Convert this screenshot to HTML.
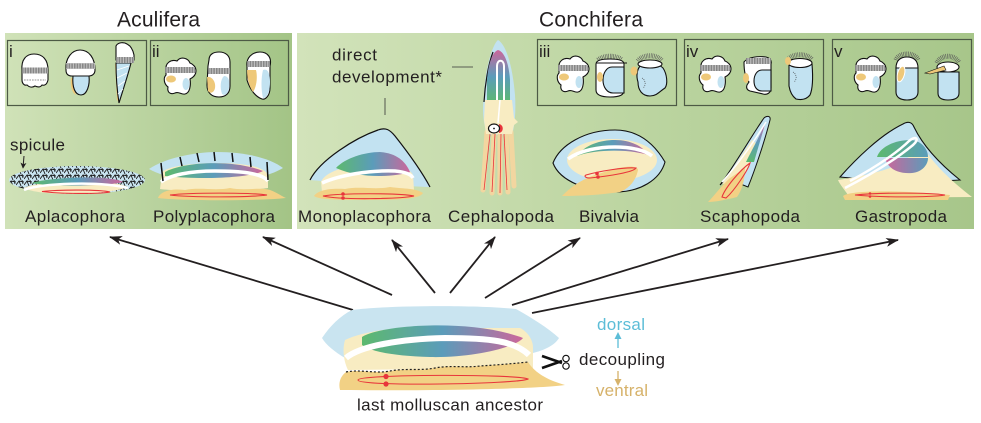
<!DOCTYPE html>
<html><head><meta charset="utf-8"><style>
html,body{margin:0;padding:0;background:#fff;}
svg{display:block;}
text{font-family:"Liberation Sans",Arial,sans-serif;fill:#231f20;}
.lb{font-size:17px;}
.lv{stroke:#111;stroke-width:1.1;}
.bd{stroke:#6a6a6a;stroke-width:6;stroke-dasharray:0.7 0.9;fill:none;}
.bdb{stroke:#c8c8c8;stroke-width:6;fill:none;}
.ci{stroke:#5a5a5a;stroke-width:5;stroke-dasharray:0.6 1;fill:none;}
.wh{fill:#fff;}
.bl{fill:#c2e2f1;}
.tn{fill:#eec879;}
.py{fill:#f8ecc2;}
.ft{fill:#f2d185;}
.rd{stroke:#e8353b;stroke-width:1.1;fill:none;}
.ar{stroke:#231f20;stroke-width:1.8;fill:none;marker-end:url(#ah);}
</style></head><body>
<svg width="981" height="423" viewBox="0 0 981 423" xmlns="http://www.w3.org/2000/svg">
<defs>
<linearGradient id="pa" x1="0" x2="1"><stop offset="0" stop-color="#d0e2b8"/><stop offset="1" stop-color="#a3c486"/></linearGradient>
<linearGradient id="pc" x1="0" x2="1"><stop offset="0" stop-color="#d2e3ba"/><stop offset="0.5" stop-color="#bcd5a1"/><stop offset="1" stop-color="#a7c68a"/></linearGradient>
<linearGradient id="vg" x1="0" x2="1"><stop offset="0" stop-color="#5cb96e"/><stop offset="0.5" stop-color="#5b9cba"/><stop offset="1" stop-color="#cc669b"/></linearGradient>
<linearGradient id="vv" x1="0" y1="1" x2="0" y2="0"><stop offset="0" stop-color="#5cb96e"/><stop offset="0.5" stop-color="#5b9cba"/><stop offset="1" stop-color="#cc669b"/></linearGradient>
<linearGradient id="g1" x1="0" x2="1"><stop offset="0" stop-color="#5cb96e"/><stop offset="1" stop-color="#5b9cba"/></linearGradient>
<linearGradient id="g2" x1="0" x2="1"><stop offset="0" stop-color="#cc669b"/><stop offset="1" stop-color="#5b9cba"/></linearGradient>
<pattern id="sp" width="8" height="6" patternUnits="userSpaceOnUse"><rect width="8" height="6" fill="#c9e4f0"/><path d="M0,5 L3,1 L8,2 M3,1 L5,6 M6,0 L7,4" stroke="#1a1a1a" stroke-width="0.9" fill="none"/></pattern>
<marker id="ah" viewBox="0 0 13 9" refX="12" refY="4.5" markerWidth="13" markerHeight="9" markerUnits="userSpaceOnUse" orient="auto"><path d="M0,0 L13,4.5 L0,9 L3.5,4.5 Z" fill="#231f20"/></marker>
<marker id="sa" viewBox="0 0 8 8" refX="7" refY="4" markerWidth="6" markerHeight="6" markerUnits="userSpaceOnUse" orient="auto"><path d="M0,0 L8,4 L0,8 L2,4 Z" fill="#231f20"/></marker>
<g id="L4">
<path class="lv wh" d="M166,70 C165,63 171,59 177,61 C181,56 188,58 190,63 C193,64 196,67 196,71 C196,76 192,78 190,79 C191,85 190,93 185,94 C181,95 179,91 175,93 C170,95 167,92 168,87 C164,84 163,78 166,75 Z"/>
<line class="bdb" x1="165" y1="70" x2="195" y2="70"/><line class="bd" x1="165" y1="70" x2="195" y2="70"/>
<ellipse class="tn" cx="171" cy="79" rx="5" ry="3.5"/>
<ellipse class="bl" cx="186" cy="84" rx="3.5" ry="6"/>
</g>
</defs>

<!-- panels -->
<rect x="5" y="33" width="287" height="196" fill="url(#pa)"/>
<rect x="297" y="33" width="677" height="196" fill="url(#pc)"/>
<g fill="none" stroke="#4d5a45" stroke-width="1.2">
<rect x="7.5" y="40.5" width="139" height="65"/>
<rect x="150.5" y="40.5" width="138" height="65"/>
<rect x="537.5" y="39.5" width="139" height="66"/>
<rect x="684.5" y="39.5" width="139" height="66"/>
<rect x="832.5" y="39.5" width="139" height="66"/>
</g>

<!-- titles -->
<text x="158.5" y="26.7" font-size="21" text-anchor="middle" textLength="83">Aculifera</text>
<text x="591" y="26.7" font-size="21" text-anchor="middle" textLength="104">Conchifera</text>

<text x="9" y="57" font-size="17">i</text>
<text x="152" y="57" font-size="17">ii</text>
<text x="539" y="57" font-size="17">iii</text>
<text x="686" y="57" font-size="17">iv</text>
<text x="834" y="57" font-size="17">v</text>

<!-- box i larvae -->
<path class="lv wh" d="M22,70 C21,60 26,54 34,54 C43,54 48,60 48,70 L48,80 C47,84 45,86 42,85 C40,88 37,87 35,86 C32,88 29,87 27,85 C24,86 22,83 22,80 Z"/>
<line class="bdb" x1="22" y1="70.5" x2="48" y2="70.5"/><line class="bd" x1="22" y1="70.5" x2="48" y2="70.5"/>
<line x1="24" y1="80" x2="46" y2="80" stroke="#888" stroke-width="1.5" stroke-dasharray="0.6 1"/>

<path class="tn" d="M71,78 C70,86 72,93 76,95 C74,90 74,84 74,78 Z"/>
<path class="lv bl" d="M73,76 L89,76 C90,85 87,95 81,95 C75,95 72,87 73,76 Z"/>
<path class="lv wh" d="M66,70 C65,58 72,50 80,50 C89,50 95,58 95,70 C95,74 92,76 89,76 L72,76 C68,76 66,74 66,70 Z"/>
<line class="bdb" x1="66" y1="66" x2="95" y2="66"/><line class="bd" x1="66" y1="66" x2="95" y2="66" style="stroke-width:5"/>

<path class="tn" d="M115,64 L117,64 L119,102 L117,100 Z"/>
<path class="lv bl" d="M116,63 L131,63 C128,75 123,90 119,103 C117,90 116,75 116,63 Z"/>
<path d="M117,70 L129,66 M117,78 L127,73 M118,86 L125,81 M118,94 L123,89" stroke="#fff" stroke-width="0.8"/>
<path class="lv wh" d="M116,58 L116,46 C118,42 124,42 127,44 C131,46 133,50 134,55 L134,60 L116,60 Z"/>
<line class="bdb" x1="116" y1="60" x2="134" y2="60"/><line class="bd" x1="116" y1="60" x2="134" y2="60"/>

<!-- box ii larvae -->
<use href="#L4"/>
<path class="lv wh" d="M209,60 C209,54 214,52 219,52 C226,52 230,56 230,62 L230,86 C230,93 226,97 219,97 C212,97 207,93 207,85 L208,66 Z"/>
<line class="bdb" x1="208" y1="71" x2="230" y2="71"/><line class="bd" x1="208" y1="71" x2="230" y2="71"/>
<path class="tn" d="M207,77 C212,76 216,82 215,88 C214,93 210,94 208,91 Z"/>
<path class="bl" d="M224,76 C229,76 230,82 229,88 C228,94 225,96 222,94 C220,88 220,80 224,76 Z"/>

<path class="lv wh" d="M247,66 C246,58 252,52 260,52 C268,52 272,58 270,66 L270,88 C270,96 265,100 262,99 C256,97 250,90 247,80 Z"/>
<line class="bdb" x1="247" y1="64" x2="270" y2="64"/><line class="bd" x1="247" y1="64" x2="270" y2="64"/>
<path class="tn" d="M247,70 L256,70 C258,78 256,88 253,92 C250,88 247,80 247,70 Z"/>
<path class="bl" d="M263,70 C268,68 270,74 270,82 C270,92 267,98 263,98 C261,90 261,78 263,70 Z"/>

<!-- box iii -->
<use href="#L4" transform="translate(393,-2)"/>
<path class="ci" d="M598,60 C604,55 616,55 622,60"/>
<path class="lv wh" d="M596,64 C596,60 602,59 610,59 C618,59 624,60 624,64 L624,90 C624,95 620,97 610,97 C600,97 596,94 596,90 Z"/>
<line x1="596" y1="63" x2="627" y2="63" stroke="#111" stroke-width="1"/>
<path class="lv bl" d="M624,67 L612,67 C606,67 603,74 603,80 C603,87 607,93 613,93 L624,93 Z"/>
<ellipse class="tn" cx="600" cy="77" rx="3" ry="5"/>

<path class="ci" d="M638,61 C643,54 657,54 662,61"/>
<path class="lv bl" d="M640,66 C646,63 658,63 663,68 C667,74 668,84 665,88 C660,91 657,96 650,96 C642,96 638,90 638,82 C636,76 637,70 640,66 Z"/>
<ellipse class="lv wh" cx="650" cy="64" rx="12" ry="4"/>
<ellipse class="tn" cx="634" cy="71" rx="3.5" ry="4.5"/>
<path d="M642,78 C646,80 646,86 643,88" stroke="#333" stroke-width="0.6" stroke-dasharray="1 1" fill="none"/>

<!-- box iv -->
<use href="#L4" transform="translate(535,-2)"/>
<path class="lv wh" d="M744,62 C748,57 758,56 766,57 C770,58 772,60 771,64 L771,88 C771,93 767,95 763,94 L750,91 C747,90 746,88 747,85 L749,82 C745,78 744,70 744,62 Z"/>
<line class="bdb" x1="746" y1="61" x2="771" y2="61"/><line class="bd" x1="746" y1="61" x2="771" y2="61"/>
<path class="lv bl" d="M771,70 L762,70 C757,70 754,75 754,81 C754,87 757,91 762,91 L771,91 Z"/>
<ellipse class="tn" cx="746" cy="78" rx="3" ry="5"/>

<path class="ci" d="M788,60 C792,53 808,53 812,60"/>
<path class="lv bl" d="M789,64 L812,64 C813,76 813,88 810,95 C806,100 800,100 796,99 C792,96 790,92 789,86 Z"/>
<ellipse class="lv wh" cx="800" cy="63" rx="12" ry="4.5"/>
<ellipse class="tn" cx="788" cy="61" rx="3" ry="4"/>
<path d="M793,72 C797,74 797,80 794,82" stroke="#333" stroke-width="0.6" stroke-dasharray="1 1" fill="none"/>

<!-- box v -->
<use href="#L4" transform="translate(690,-2)"/>
<path class="ci" d="M896,60 C899,52 915,52 918,60"/>
<path class="lv bl" d="M896,68 L918,68 L918,92 C918,97 914,100 907,100 C900,100 896,97 896,92 Z"/>
<path class="lv wh" d="M896,68 C896,60 901,57 907,57 C913,57 918,60 918,68 Z"/>
<ellipse class="tn" cx="901" cy="74" rx="3.5" ry="8" transform="rotate(15 901 74)" stroke="#fff" stroke-width="1"/>

<path class="ci" d="M937,63 C941,54 955,54 959,63"/>
<path class="lv bl" d="M938,72 L959,72 L959,93 C959,98 955,100 948,100 C942,100 938,98 938,93 Z"/>
<ellipse class="lv wh" cx="948" cy="67" rx="11" ry="5"/>
<path d="M925,73 L944,66 L946,70 L930,74 Z" fill="#eec879" stroke="#111" stroke-width="0.6"/>

<!-- Aplacophora -->
<text class="lb" x="10" y="150.7" textLength="55">spicule</text>
<line x1="24" y1="156" x2="23" y2="168" stroke="#231f20" stroke-width="1" marker-end="url(#sa)"/>
<ellipse cx="77" cy="180" rx="68" ry="14" fill="url(#sp)"/>
<path class="py" d="M24,188 C40,180 110,178 128,187 C110,195 40,197 24,188 Z"/>
<path d="M32,183 C50,177 110,175 123,182 C110,186 50,187 32,183 Z" fill="url(#vg)"/>
<path d="M24,190 C40,183 100,181 128,188" stroke="#fff" stroke-width="2.5" fill="none"/>
<path class="rd" d="M42,191.5 C60,189.5 100,189.5 110,192 C100,194 60,194 42,191.5 Z"/>
<text class="lb" x="25" y="222" textLength="100">Aplacophora</text>

<!-- Polyplacophora -->
<path class="bl" d="M149,169 C165,158 195,152 217,152 C245,152 270,158 283,168 C270,176 245,182 217,182 C190,182 165,178 149,169 Z"/>
<path class="py" d="M162,172 C170,165 200,163 217,163 C245,163 265,167 268,175 L268,188 C250,191 185,192 160,189 Z"/>
<path d="M165,172 C180,163 230,158 263,171 C250,178 200,180 165,176 Z" fill="url(#vg)"/>
<path d="M161,182 C170,175 190,171 215,171 C240,171 262,173 268,181" stroke="#fff" stroke-width="3.5" fill="none"/>
<path class="ft" d="M158,198 C160,192 170,188 185,190 C200,187 215,191 230,188 C245,191 260,187 270,190 C278,193 283,197 286,198 C260,201 180,201 158,198 Z"/>
<path class="rd" d="M170,195 C190,192.5 250,192.5 267,195 C250,197.5 190,197.5 170,195 Z"/>
<g stroke="#111" stroke-width="1.5">
<line x1="161" y1="163" x2="163" y2="181"/><line x1="180" y1="157" x2="182" y2="166"/><line x1="197" y1="153" x2="199" y2="162"/>
<line x1="214" y1="152" x2="215" y2="161"/><line x1="232" y1="153" x2="233" y2="162"/><line x1="250" y1="157" x2="251" y2="167"/><line x1="267" y1="162" x2="268" y2="180"/>
</g>
<text class="lb" x="153" y="222" textLength="122">Polyplacophora</text>

<!-- direct development -->
<text class="lb" x="332" y="60.7" textLength="45">direct</text>
<text class="lb" x="332" y="82.3" textLength="110">development*</text>
<line x1="385" y1="98" x2="385" y2="115" stroke="#333" stroke-width="0.8"/>
<line x1="452" y1="67" x2="473" y2="67" stroke="#333" stroke-width="0.8"/>

<!-- Monoplacophora -->
<path class="bl" d="M310,180 C320,160 355,138 378,130 C386,127 390,130 395,136 C410,155 422,172 430,187 C400,186 340,183 310,180 Z"/>
<path d="M310,180 C320,160 355,138 378,130 C386,127 390,130 395,136 C410,155 422,172 430,187" stroke="#111" stroke-width="1.2" fill="none"/>
<path class="py" d="M321,182 C325,172 345,165 370,165 C395,164 410,168 413,175 L414,190 L322,192 Z"/>
<path d="M336,168 C345,158 365,152 380,152 C395,153 405,160 410,172 C395,177 360,179 336,168 Z" fill="url(#vg)"/>
<path d="M322,183 C340,175 370,170 395,171 C405,172 411,174 413,178" stroke="#fff" stroke-width="3.5" fill="none"/>
<path class="ft" d="M314,196 C318,190 330,188 345,189 C360,186 375,190 390,187 C405,189 415,188 423,193 C420,199 400,200 370,200 C340,200 320,200 314,196 Z"/>
<path class="rd" d="M323,196 C340,193 400,193 414,196 C400,199 340,200 323,196 Z"/>
<circle cx="343" cy="194" r="1.8" fill="#e8353b"/><circle cx="343" cy="198" r="1.8" fill="#e8353b"/>
<text class="lb" x="298" y="222" textLength="133">Monoplacophora</text>

<!-- Cephalopoda -->
<path class="bl" d="M498,40 C492,45 485,70 484,95 C482,110 483,125 488,135 L512,135 C515,125 516,110 515,95 C513,70 507,45 498,40 Z"/>
<path d="M493,52 C488,65 485,85 484,102" stroke="#111" stroke-width="1.2" fill="none"/>
<path d="M498,50 C505,52 509,65 510,80 L510,103 L487,103 L487,80 C488,65 492,52 498,50 Z" fill="url(#vv)"/>
<g stroke="#f2d6a0" stroke-width="5" stroke-linecap="round">
<line x1="487" y1="132" x2="483" y2="190"/><line x1="494" y1="132" x2="492" y2="193"/><line x1="500" y1="132" x2="500" y2="193"/><line x1="506" y1="132" x2="508" y2="192"/><line x1="511" y1="132" x2="514" y2="186"/>
</g>
<path class="py" d="M485,100 L512,100 L514,118 L518,122 L514,125 L512,134 L486,134 L484,120 Z"/>
<path d="M497,100 L497,66 C497,59 504,59 504,66 L504,100" stroke="#fff" stroke-width="2" fill="none"/>
<line x1="500" y1="100" x2="498" y2="123" stroke="#fff" stroke-width="1.5"/>
<g stroke="#e8353b" stroke-width="0.8" fill="none">
<line x1="490" y1="134" x2="484" y2="190"/><line x1="495" y1="134" x2="492" y2="192"/><line x1="501" y1="134" x2="500" y2="193"/><line x1="504" y1="134" x2="507" y2="190"/>
</g>
<path d="M499,124 C504,125 504,132 499,133" fill="#e8353b"/>
<ellipse cx="494" cy="128.5" rx="5.5" ry="4.5" fill="#fff" stroke="#111" stroke-width="1.2"/>
<circle cx="494" cy="128.5" r="0.9" fill="#111"/>
<text class="lb" x="448" y="222" textLength="106">Cephalopoda</text>

<!-- Bivalvia -->
<path class="bl" d="M553,163 C560,145 585,130 615,130 C640,130 655,145 665,162 C660,180 640,192 615,192 C590,192 560,182 553,163 Z" stroke="#111" stroke-width="1.1"/>
<ellipse class="py" cx="612" cy="160" rx="45" ry="21"/>
<path d="M577,156 C585,145 600,140 615,140 C630,140 643,146 648,155 C630,149 595,149 577,156 Z" fill="url(#vg)"/>
<path d="M568,159 C580,150 600,147 615,147 C630,147 645,150 652,156" stroke="#fff" stroke-width="3.5" fill="none"/>
<path class="ft" d="M562,196 C570,188 580,180 595,175 C605,172 615,168 625,167 C632,166 638,167 638,170 C636,180 630,188 620,192 C600,195 580,196 562,196 Z"/>
<path class="rd" d="M586,175 C600,171 625,167 636,168 C634,172 610,176 590,178 C585,178 584,176 586,175 Z"/>
<circle cx="597" cy="173.5" r="1.8" fill="#e8353b"/><circle cx="598" cy="177" r="1.8" fill="#e8353b"/>
<text class="lb" x="579" y="222" textLength="60">Bivalvia</text>

<!-- Scaphopoda -->
<path class="bl" d="M764,118 C766,116 771,115 770,120 C765,140 755,170 748,187 L738,183 C730,180 725,180 720,185 C735,165 752,135 764,118 Z" stroke="#111" stroke-width="1"/>
<path class="py" d="M722,184 C732,170 745,150 752,140 L758,145 C752,160 745,175 740,182 Z"/>
<path d="M765,124 C760,135 752,150 746,162 L754,162 C758,148 762,135 765,124 Z" fill="url(#vv)"/>
<path d="M766,122 C755,140 740,162 722,182" stroke="#fff" stroke-width="1.5" fill="none"/>
<path class="ft" d="M708,202 C715,195 722,185 730,178 L745,168 C745,180 742,190 737,197 C725,200 715,202 708,202 Z"/>
<path class="rd" d="M722,197 C725,188 740,170 750,163 C748,170 735,190 726,198 Z"/>
<text class="lb" x="700" y="222" textLength="100">Scaphopoda</text>

<!-- Gastropoda -->
<path class="bl" d="M840,177 C855,160 880,135 903,124 C908,121 912,122 914,127 C925,150 945,168 960,180 C930,182 870,180 840,177 Z" stroke="#111" stroke-width="1.1"/>
<path class="py" d="M838,180 C850,178 870,175 890,168 C905,160 915,152 925,150 C935,165 950,180 972,197 L850,198 C845,190 840,185 838,180 Z"/>
<path class="ft" d="M843,196 C850,190 900,190 950,195 L948,200 L845,200 Z"/>
<path d="M877,157 C880,147 895,140 910,140 C920,140 928,148 928,157 Z" fill="url(#g1)"/>
<path d="M885,158 C888,170 900,174 912,173 C922,172 928,165 928,158 Z" fill="url(#g2)"/>
<path d="M845,188 C870,175 895,160 913,145 C920,139 916,135 909,141 C900,150 880,165 850,181" stroke="#fff" stroke-width="2.5" fill="none"/>
<path class="rd" d="M855,195 C880,192.5 930,192.5 945,195 C930,197.5 880,197.5 855,195 Z"/>
<circle cx="870" cy="193.5" r="1.3" fill="#e8353b"/><circle cx="870" cy="196.5" r="1.3" fill="#e8353b"/>
<text class="lb" x="855" y="222" textLength="92">Gastropoda</text>

<!-- arrows -->
<line class="ar" x1="353" y1="310" x2="110" y2="237"/>
<line class="ar" x1="392" y1="295" x2="263" y2="237"/>
<line class="ar" x1="435" y1="293" x2="392" y2="240"/>
<line class="ar" x1="450" y1="293" x2="495" y2="237"/>
<line class="ar" x1="485" y1="298" x2="580" y2="238"/>
<line class="ar" x1="512" y1="305" x2="728" y2="239"/>
<line class="ar" x1="532" y1="313" x2="898" y2="240"/>

<!-- ancestor -->
<path d="M322,338 C330,326 340,316 352,310 C390,305 480,305 516,309 C532,318 548,328 559,338 C555,345 545,350 533,353 L345,358 C335,352 326,345 322,338 Z" fill="#c9e4f0"/>
<path class="py" d="M345,340 C360,333 380,330 400,328 L520,328 C528,332 533,340 533,348 L533,368 L348,370 C344,362 342,350 345,340 Z"/>
<path d="M362,337 C380,325 470,318 523,338 C515,348 470,358 430,357 C395,356 372,352 362,345 Z" fill="url(#vg)"/>
<path d="M346,358 C360,346 400,339 445,338 C490,338 515,341 529,355" stroke="#fff" stroke-width="6" fill="none"/>
<path class="ft" d="M340,390 C338,382 341,376 346,372 C360,369 375,374 390,371 C405,368 420,371 435,368 C450,365 465,368 480,366 C495,365 510,364 528,362 C532,368 540,378 565,385 C540,389 420,391 340,390 Z"/>
<path d="M346,372 C360,369 375,374 390,371 C405,368 420,371 435,368 C450,365 465,368 480,366 C495,365 510,364 528,362" stroke="#222" stroke-width="1.2" stroke-dasharray="2 2" fill="none"/>
<path class="rd" d="M358,380 C358,374 520,374 528,379 C520,384 358,387 358,380 Z"/>
<circle cx="386" cy="376.5" r="2.6" fill="#e8353b"/><circle cx="386" cy="384" r="2.6" fill="#e8353b"/>
<text class="lb" x="357" y="410.7" textLength="186">last molluscan ancestor</text>

<!-- scissors -->
<path d="M542,356 L562,363 M542,368 L562,361" stroke="#111" stroke-width="2.6"/>
<circle cx="566" cy="358.5" r="3.2" fill="#fff" stroke="#111" stroke-width="1.2"/>
<circle cx="566" cy="366" r="3.2" fill="#fff" stroke="#111" stroke-width="1.2"/>

<text x="597" y="330" font-size="17" textLength="48" style="fill:#5cbdd7">dorsal</text>
<line x1="618" y1="348" x2="618" y2="337" stroke="#5cbdd7" stroke-width="1.3"/>
<path d="M614.5,339 L618,332 L621.5,339 Z" fill="#5cbdd7"/>
<text x="579" y="365" font-size="17" textLength="86">decoupling</text>
<line x1="618" y1="371" x2="618" y2="381" stroke="#d6b26a" stroke-width="1.3"/>
<path d="M614.5,379 L618,386 L621.5,379 Z" fill="#d6b26a"/>
<text x="596" y="396" font-size="17" textLength="52" style="fill:#d6b26a">ventral</text>
</svg>
</body></html>
